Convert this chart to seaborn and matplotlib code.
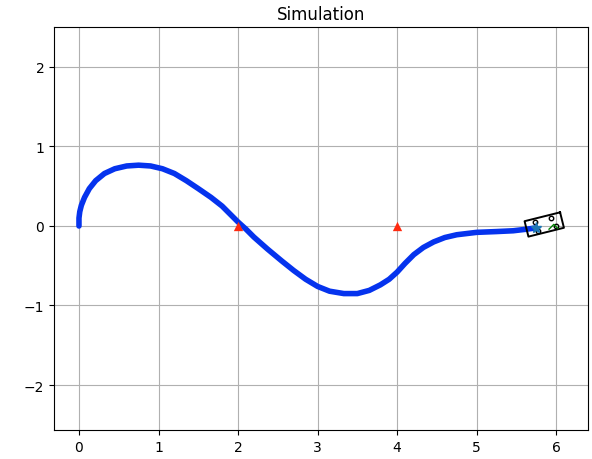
import numpy as np
import matplotlib
matplotlib.use("Agg")
import matplotlib.pyplot as plt
import seaborn as sns
import pandas as pd

# trajectory
traj_x = [0.0, 0.0, 0.01, 0.03, 0.07, 0.13, 0.21, 0.32, 0.45, 0.6, 0.75, 0.9, 1.05, 1.2, 1.35,
          1.5, 1.66, 1.8, 1.92, 2.0, 2.1, 2.2, 2.37, 2.55, 2.7, 2.85, 3.0, 3.15, 3.33,
          3.5, 3.65, 3.79, 3.9, 4.0, 4.1, 4.21, 4.33, 4.46, 4.6, 4.75, 5.0, 5.25, 5.46,
          5.63, 5.74]
traj_y = [0.0, 0.1, 0.18, 0.26, 0.36, 0.47, 0.57, 0.66, 0.72, 0.755, 0.765, 0.755, 0.72, 0.66, 0.57,
          0.47, 0.36, 0.25, 0.13, 0.05, -0.04, -0.14, -0.29, -0.44, -0.56, -0.67, -0.76, -0.82, -0.85,
          -0.85, -0.81, -0.74, -0.67, -0.58, -0.47, -0.36, -0.27, -0.20, -0.145, -0.11, -0.08, -0.07, -0.06,
          -0.04, -0.025]

# obstacles / waypoints
tri_x = [2.0, 4.0]
tri_y = [0.0, 0.0]

# car pose
car_cx, car_cy = 5.85, 0.019
car_yaw_deg = 14.0
car_length, car_width = 0.46, 0.20
wheel_fx = [-0.10, -0.10, 0.10, 0.14]
wheel_fy = [0.055, -0.06, 0.055, -0.06]
steer_x = [5.91, 5.97, 6.02]
steer_y = [-0.04, 0.02, -0.03]

fig = plt.figure(figsize=(5.92, 4.60), dpi=100)
ax = fig.add_axes([54 / 592, 29 / 460, 534 / 592, 403 / 460])

df = pd.DataFrame({"x": traj_x, "y": traj_y})
sns.lineplot(data=df, x="x", y="y", sort=False, estimator=None, color="#0533ee",
             linewidth=4.0, solid_capstyle="round", solid_joinstyle="round", ax=ax)
sns.scatterplot(x=tri_x, y=tri_y, marker="^", color="#ff2a10", s=45, linewidth=0, ax=ax, zorder=3)

# car outline
yaw = np.deg2rad(car_yaw_deg)
c, s = np.cos(yaw), np.sin(yaw)
lx = np.array([1, 1, -1, -1, 1]) * car_length / 2
ly = np.array([1, -1, -1, 1, 1]) * car_width / 2
ox = car_cx + lx * c - ly * s
oy = car_cy + lx * s + ly * c
ax.plot(ox, oy, color="black", linewidth=1.4, zorder=4)
wx = car_cx + np.array(wheel_fx) * c - np.array(wheel_fy) * s
wy = car_cy + np.array(wheel_fx) * s + np.array(wheel_fy) * c
ax.plot(wx, wy, "o", markersize=3.2, markerfacecolor="none", markeredgecolor="black",
        markeredgewidth=1.0, zorder=5)
ax.plot(steer_x, steer_y, color="green", linewidth=1.0, zorder=5)
ax.plot([traj_x[-1]], [traj_y[-1]], "*", color="#1f77b4", markersize=8, zorder=6)

ax.set_xlim(-0.314, 6.40)
ax.set_ylim(-2.566, 2.503)
ax.set_xticks([0, 1, 2, 3, 4, 5, 6])
ax.set_yticks([-2, -1, 0, 1, 2])
ax.set_xlabel("")
ax.set_ylabel("")
ax.grid(True, color="#b0b0b0", linewidth=0.8)
ax.set_axisbelow(True)
ax.set_title("Simulation", fontsize=12)

fig.savefig("out.png", dpi=100)
